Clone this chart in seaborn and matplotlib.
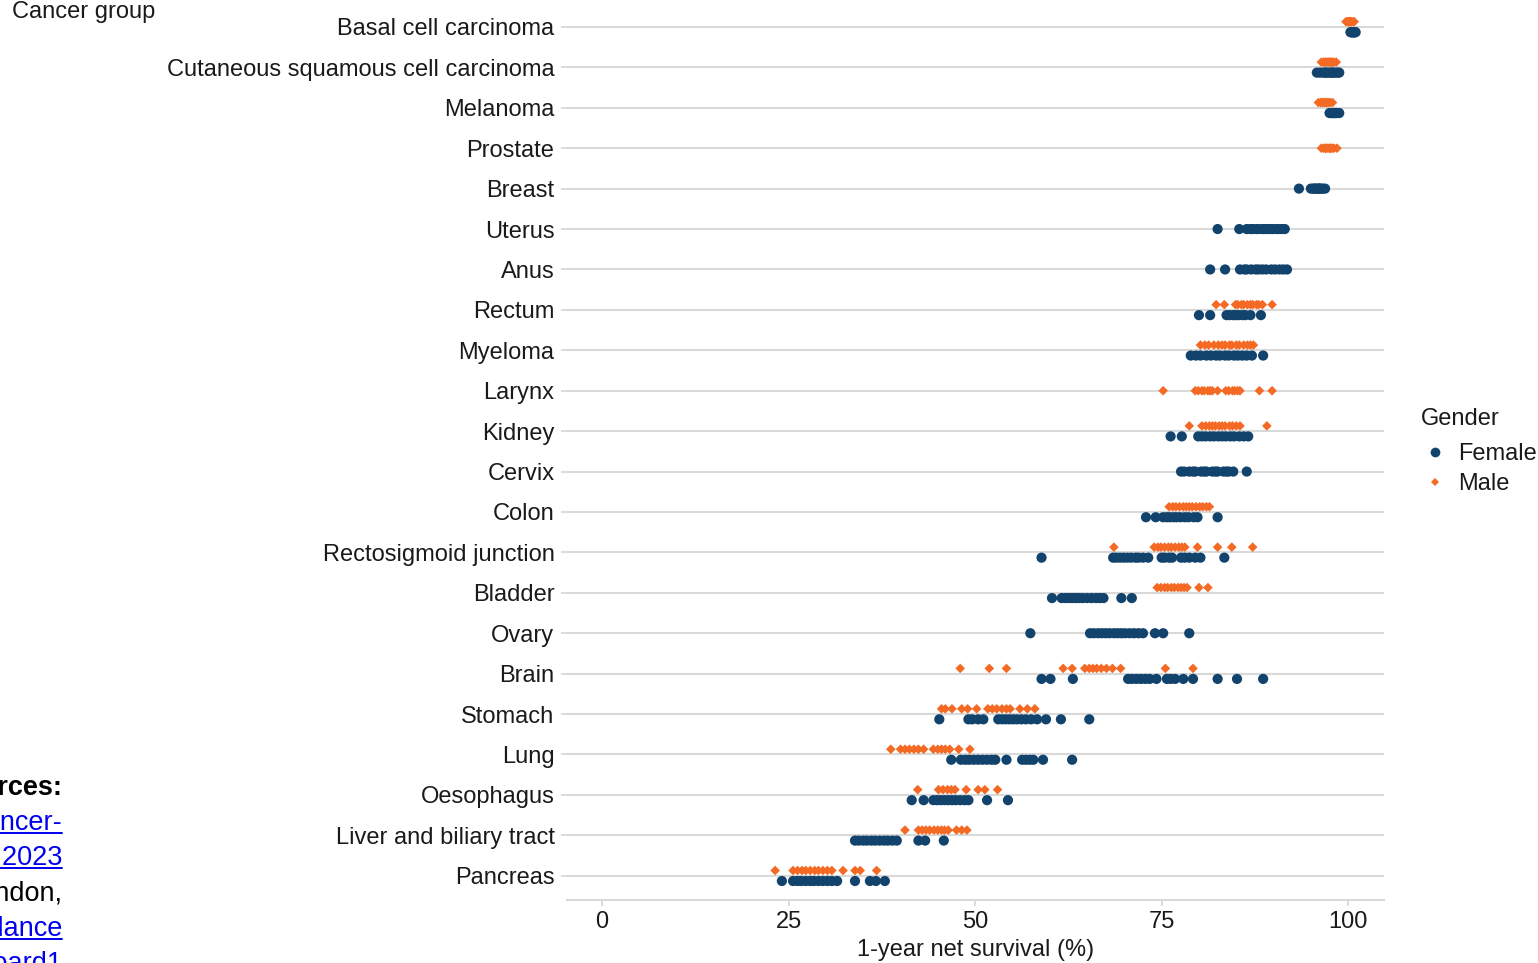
import matplotlib
matplotlib.use("Agg")
import matplotlib.pyplot as plt
from matplotlib.lines import Line2D
import seaborn as sns
import pandas as pd

# Cancer groups, top to bottom
categories = [
    "Basal cell carcinoma", "Cutaneous squamous cell carcinoma", "Melanoma",
    "Prostate", "Breast", "Uterus", "Anus", "Rectum", "Myeloma", "Larynx",
    "Kidney", "Cervix", "Colon", "Rectosigmoid junction", "Bladder", "Ovary",
    "Brain", "Stomach", "Lung", "Oesophagus", "Liver and biliary tract",
    "Pancreas",
]

# 1-year net survival (%) by cancer group, one value per area
basal_f = [100.3, 100.5, 100.6, 100.7, 100.8, 100.9, 101.0, 100.4, 100.6, 100.8]
basal_m = [99.7, 99.9, 100.1, 100.2, 100.4, 100.5, 100.7, 100.8, 100.0, 100.3]
cscc_f = [95.8, 96.2, 96.6, 96.9, 97.2, 97.5, 97.7, 98.0, 98.3, 98.6, 98.8, 97.0, 97.9]
cscc_m = [96.4, 96.7, 97.0, 97.2, 97.5, 97.7, 97.9, 98.1, 98.4, 96.9, 97.4, 97.8]
melanoma_f = [97.5, 97.7, 97.9, 98.1, 98.3, 98.5, 98.8, 97.8, 98.2]
melanoma_m = [96.0, 96.3, 96.6, 96.8, 97.0, 97.2, 97.4, 97.6, 97.9, 96.5, 97.1]
prostate_m = [96.4, 96.7, 96.9, 97.1, 97.3, 97.5, 97.7, 97.9, 98.1, 98.5, 97.0, 97.6]
breast_f = [93.4, 95.0, 95.3, 95.5, 95.8, 96.0, 96.2, 96.4, 96.6, 96.9, 95.6, 96.1]
uterus_f = [82.5, 85.4, 86.4, 86.9, 87.2, 87.7, 88.0, 88.5, 88.8, 89.2, 89.5, 89.9,
            90.4, 90.7, 91.1, 91.5]
anus_f = [81.5, 83.5, 85.5, 86.1, 86.4, 87.0, 87.6, 88.0, 88.5, 89.0, 89.7, 90.2,
          90.8, 91.3, 91.8]
rectum_f = [80.0, 81.5, 83.7, 84.1, 84.6, 84.9, 85.3, 85.8, 86.2, 86.9, 88.3]
rectum_m = [82.3, 83.4, 84.9, 85.2, 85.7, 86.0, 86.5, 86.9, 87.2, 87.7, 88.0, 88.5, 89.8]
myeloma_f = [78.9, 79.6, 80.2, 81.0, 81.6, 82.3, 82.8, 83.5, 84.0, 84.7, 85.2, 85.8,
             86.4, 87.1, 88.6]
myeloma_m = [80.2, 80.8, 81.3, 82.0, 82.6, 83.1, 83.5, 84.1, 84.4, 85.0, 85.4, 86.0,
             86.5, 86.9, 87.3]
larynx_m = [75.2, 79.5, 79.9, 80.4, 80.7, 81.2, 81.5, 81.8, 82.5, 83.6, 84.0, 84.5,
            84.8, 85.2, 85.5, 88.1, 89.8]
kidney_f = [76.2, 77.7, 79.9, 80.4, 80.9, 81.5, 82.0, 82.6, 83.1, 83.6, 84.2, 84.7,
            85.4, 86.0, 86.6]
kidney_m = [78.7, 80.4, 80.9, 81.4, 81.8, 82.2, 82.7, 83.1, 83.5, 84.1, 84.5, 85.0,
            85.5, 89.1]
cervix_f = [77.6, 78.0, 78.7, 79.2, 79.5, 80.3, 80.7, 81.0, 81.8, 82.2, 82.5, 83.3,
            83.7, 84.0, 84.6, 86.4]
colon_f = [72.9, 74.2, 75.2, 75.7, 76.1, 76.6, 77.0, 77.5, 78.1, 78.6, 79.3, 79.8, 82.5]
colon_m = [76.0, 76.5, 76.9, 77.4, 77.9, 78.3, 78.7, 79.1, 79.6, 80.1, 80.5, 81.0, 81.4]
rectosig_f = [58.9, 68.5, 68.9, 69.4, 69.9, 70.4, 70.9, 71.5, 71.9, 72.5, 73.2, 75.0,
              75.4, 76.0, 76.4, 77.6, 78.1, 78.7, 79.5, 80.2, 83.4]
rectosig_m = [68.6, 74.0, 74.5, 74.9, 75.4, 75.9, 76.3, 76.8, 77.3, 77.7, 78.1, 79.8,
              82.5, 84.4, 87.2]
bladder_f = [60.3, 61.6, 62.1, 62.6, 63.0, 63.5, 63.9, 64.4, 65.0, 65.6, 66.2, 66.7,
             67.2, 69.6, 71.0]
bladder_m = [74.4, 74.9, 75.4, 75.8, 76.3, 76.7, 77.2, 77.6, 78.0, 78.4, 80.0, 81.2]
ovary_f = [57.4, 65.4, 65.9, 66.5, 67.0, 67.5, 68.0, 68.6, 69.1, 69.6, 70.1, 70.7,
           71.3, 71.9, 72.5, 74.1, 75.2, 78.7]
brain_f = [58.9, 60.1, 63.1, 70.5, 71.0, 71.6, 72.2, 72.8, 73.4, 74.3, 75.7, 76.2,
           76.8, 77.9, 79.2, 82.5, 85.1, 88.6]
brain_m = [48.0, 51.9, 54.2, 61.8, 63.0, 64.7, 65.3, 65.8, 66.3, 66.9, 67.6, 68.4,
           69.5, 75.5, 79.2]
stomach_f = [45.2, 49.1, 49.6, 50.4, 51.1, 53.1, 53.6, 54.1, 54.6, 55.1, 55.6, 56.2,
             56.8, 57.5, 58.3, 59.5, 61.5, 65.3]
stomach_m = [45.5, 46.0, 46.9, 48.2, 49.0, 50.2, 51.7, 52.3, 52.9, 53.6, 54.2, 54.7,
             56.0, 57.0, 58.0]
lung_f = [46.8, 48.1, 48.7, 49.2, 49.8, 50.4, 51.0, 51.6, 52.2, 52.7, 54.2, 56.3,
          56.8, 57.3, 57.8, 59.1, 63.0]
lung_m = [38.7, 40.0, 40.6, 41.2, 41.8, 42.4, 43.1, 44.4, 45.0, 45.5, 46.0, 46.6,
          47.8, 49.3]
oesoph_f = [41.5, 43.1, 44.4, 44.9, 45.4, 45.9, 46.4, 46.9, 47.4, 48.0, 48.6, 49.1,
            51.6, 54.4]
oesoph_m = [42.3, 45.1, 45.7, 46.3, 46.8, 47.3, 48.8, 50.4, 51.3, 53.0]
liver_f = [33.9, 34.4, 35.0, 35.5, 36.1, 36.6, 37.2, 37.8, 38.3, 38.9, 39.5, 42.4,
           43.3, 45.8]
liver_m = [40.6, 42.4, 42.9, 43.4, 43.9, 44.5, 45.0, 45.5, 45.9, 46.4, 47.5, 48.2, 48.9]
pancreas_f = [24.1, 25.6, 26.2, 26.7, 27.3, 27.9, 28.4, 29.0, 29.6, 30.2, 30.8, 31.5,
              33.9, 35.9, 36.7, 37.9]
pancreas_m = [23.2, 25.6, 26.2, 26.8, 27.3, 27.9, 28.5, 29.0, 29.6, 30.2, 30.8, 32.3,
              33.9, 34.6, 36.8]

female = {
    "Basal cell carcinoma": basal_f, "Cutaneous squamous cell carcinoma": cscc_f,
    "Melanoma": melanoma_f, "Breast": breast_f, "Uterus": uterus_f, "Anus": anus_f,
    "Rectum": rectum_f, "Myeloma": myeloma_f, "Kidney": kidney_f, "Cervix": cervix_f,
    "Colon": colon_f, "Rectosigmoid junction": rectosig_f, "Bladder": bladder_f,
    "Ovary": ovary_f, "Brain": brain_f, "Stomach": stomach_f, "Lung": lung_f,
    "Oesophagus": oesoph_f, "Liver and biliary tract": liver_f, "Pancreas": pancreas_f,
}
male = {
    "Basal cell carcinoma": basal_m, "Cutaneous squamous cell carcinoma": cscc_m,
    "Melanoma": melanoma_m, "Prostate": prostate_m, "Rectum": rectum_m,
    "Myeloma": myeloma_m, "Larynx": larynx_m, "Kidney": kidney_m, "Colon": colon_m,
    "Rectosigmoid junction": rectosig_m, "Bladder": bladder_m, "Brain": brain_m,
    "Stomach": stomach_m, "Lung": lung_m, "Oesophagus": oesoph_m,
    "Liver and biliary tract": liver_m, "Pancreas": pancreas_m,
}

genders = ["Female", "Male"]
colours = {"Female": "#12436D", "Male": "#F46A25"}
# where both sexes are shown, females sit just below the gridline, males above
nudge = {"Female": 0.13, "Male": -0.13}

source_lines = [
    ("Data sources:", "bold", "black"),
    ("https://www.ons.gov.uk/cancer-", "normal", "#0000EE"),
    ("survival-in-england 2023", "normal", "#0000EE"),
    ("Office for National Statistics, London,", "normal", "black"),
    ("https://www.gov.uk/cancer-survival-guidance", "normal", "#0000EE"),
    ("https://cancer-survival-dashboard1", "normal", "#0000EE"),
]

records = []
for gender, table, other in (("Female", female, male), ("Male", male, female)):
    for cat, values in table.items():
        row = categories.index(cat)
        shift = nudge[gender] if cat in other else 0.0
        for v in values:
            records.append({"Cancer group": cat, "Gender": gender,
                            "survival": v, "row": row + shift})
df = pd.DataFrame(records)

sns.set_theme(style="white")
plt.rcParams["font.family"] = ["Liberation Sans", "DejaVu Sans"]

W, H = 1538, 963
fig = plt.figure(figsize=(W / 100, H / 100), dpi=100)
ax = fig.add_axes([567 / W, 1 - 900 / H, (1384 - 567) / W, (900 - 2.7) / H])

sns.scatterplot(
    data=df, x="survival", y="row", hue="Gender", style="Gender", size="Gender",
    hue_order=genders, style_order=genders, size_order=genders,
    palette=colours, markers={"Female": "o", "Male": "D"},
    sizes={"Female": 54, "Male": 24}, linewidth=0, legend=False, ax=ax, zorder=3,
)

grid_col = "#D9D9D9"
text_col = "#1A1A1A"
ax.set_ylim(len(categories) - 1 + 0.6, -0.6)
ax.set_yticks(range(len(categories)))
ax.set_yticklabels(categories)
ax.set_xlim(-4.7, 104.8)
ax.set_xticks([0, 25, 50, 75, 100])
ax.grid(axis="y", color=grid_col, linewidth=1.5, zorder=0)
ax.grid(axis="x", visible=False)
for side in ("top", "right", "left"):
    ax.spines[side].set_visible(False)
ax.spines["bottom"].set_color(grid_col)
ax.spines["bottom"].set_linewidth(1.5)
ax.tick_params(axis="both", labelsize=17, labelcolor=text_col, color=grid_col,
               length=4, width=1.3, left=True, bottom=True)
ax.tick_params(axis="y", pad=5)
ax.tick_params(axis="x", pad=4)
ax.set_ylabel("")
ax.set_xlabel("1-year net survival (%)", fontsize=17, color=text_col, labelpad=4)
ax.set_facecolor("white")

fig.text(12 / W, 1 - 12 / H, "Cancer group", fontsize=17, color=text_col,
         ha="left", va="center")

# Legend: title and entries
fig.text(1421 / W, 1 - 419 / H, "Gender", fontsize=17, color=text_col,
         ha="left", va="center")
handles = [
    Line2D([], [], marker="o", linestyle="", color=colours["Female"], markersize=7,
           markeredgewidth=0),
    Line2D([], [], marker="D", linestyle="", color=colours["Male"], markersize=4.5,
           markeredgewidth=0),
]
leg = fig.legend(handles, genders, loc="upper left",
                 bbox_to_anchor=(1424 / W, 1 - 443 / H), frameon=False,
                 fontsize=17, handlelength=0.9, handletextpad=0.55,
                 labelspacing=0.35, borderaxespad=0, borderpad=0)
for txt in leg.get_texts():
    txt.set_color(text_col)

# Source notes along the left edge
text_objs = []
for i, (txt, weight, col) in enumerate(source_lines):
    t = fig.text(62 / W, 1 - (788 + 35.2 * i) / H, txt, fontsize=19.5,
                 fontweight=weight, color=col, ha="right", va="center")
    text_objs.append((t, col))

fig.canvas.draw()
renderer = fig.canvas.get_renderer()
inv = fig.transFigure.inverted()
for t, col in text_objs:
    if col == "black":
        continue
    bb = t.get_window_extent(renderer)
    (x0, y0), (x1, _) = inv.transform([(bb.x0, bb.y0), (bb.x1, bb.y1)])
    fig.add_artist(Line2D([x0, x1], [y0 + 3 / H, y0 + 3 / H], color=col,
                          linewidth=1.4, transform=fig.transFigure))

fig.savefig("out.png", dpi=100, facecolor="white")
